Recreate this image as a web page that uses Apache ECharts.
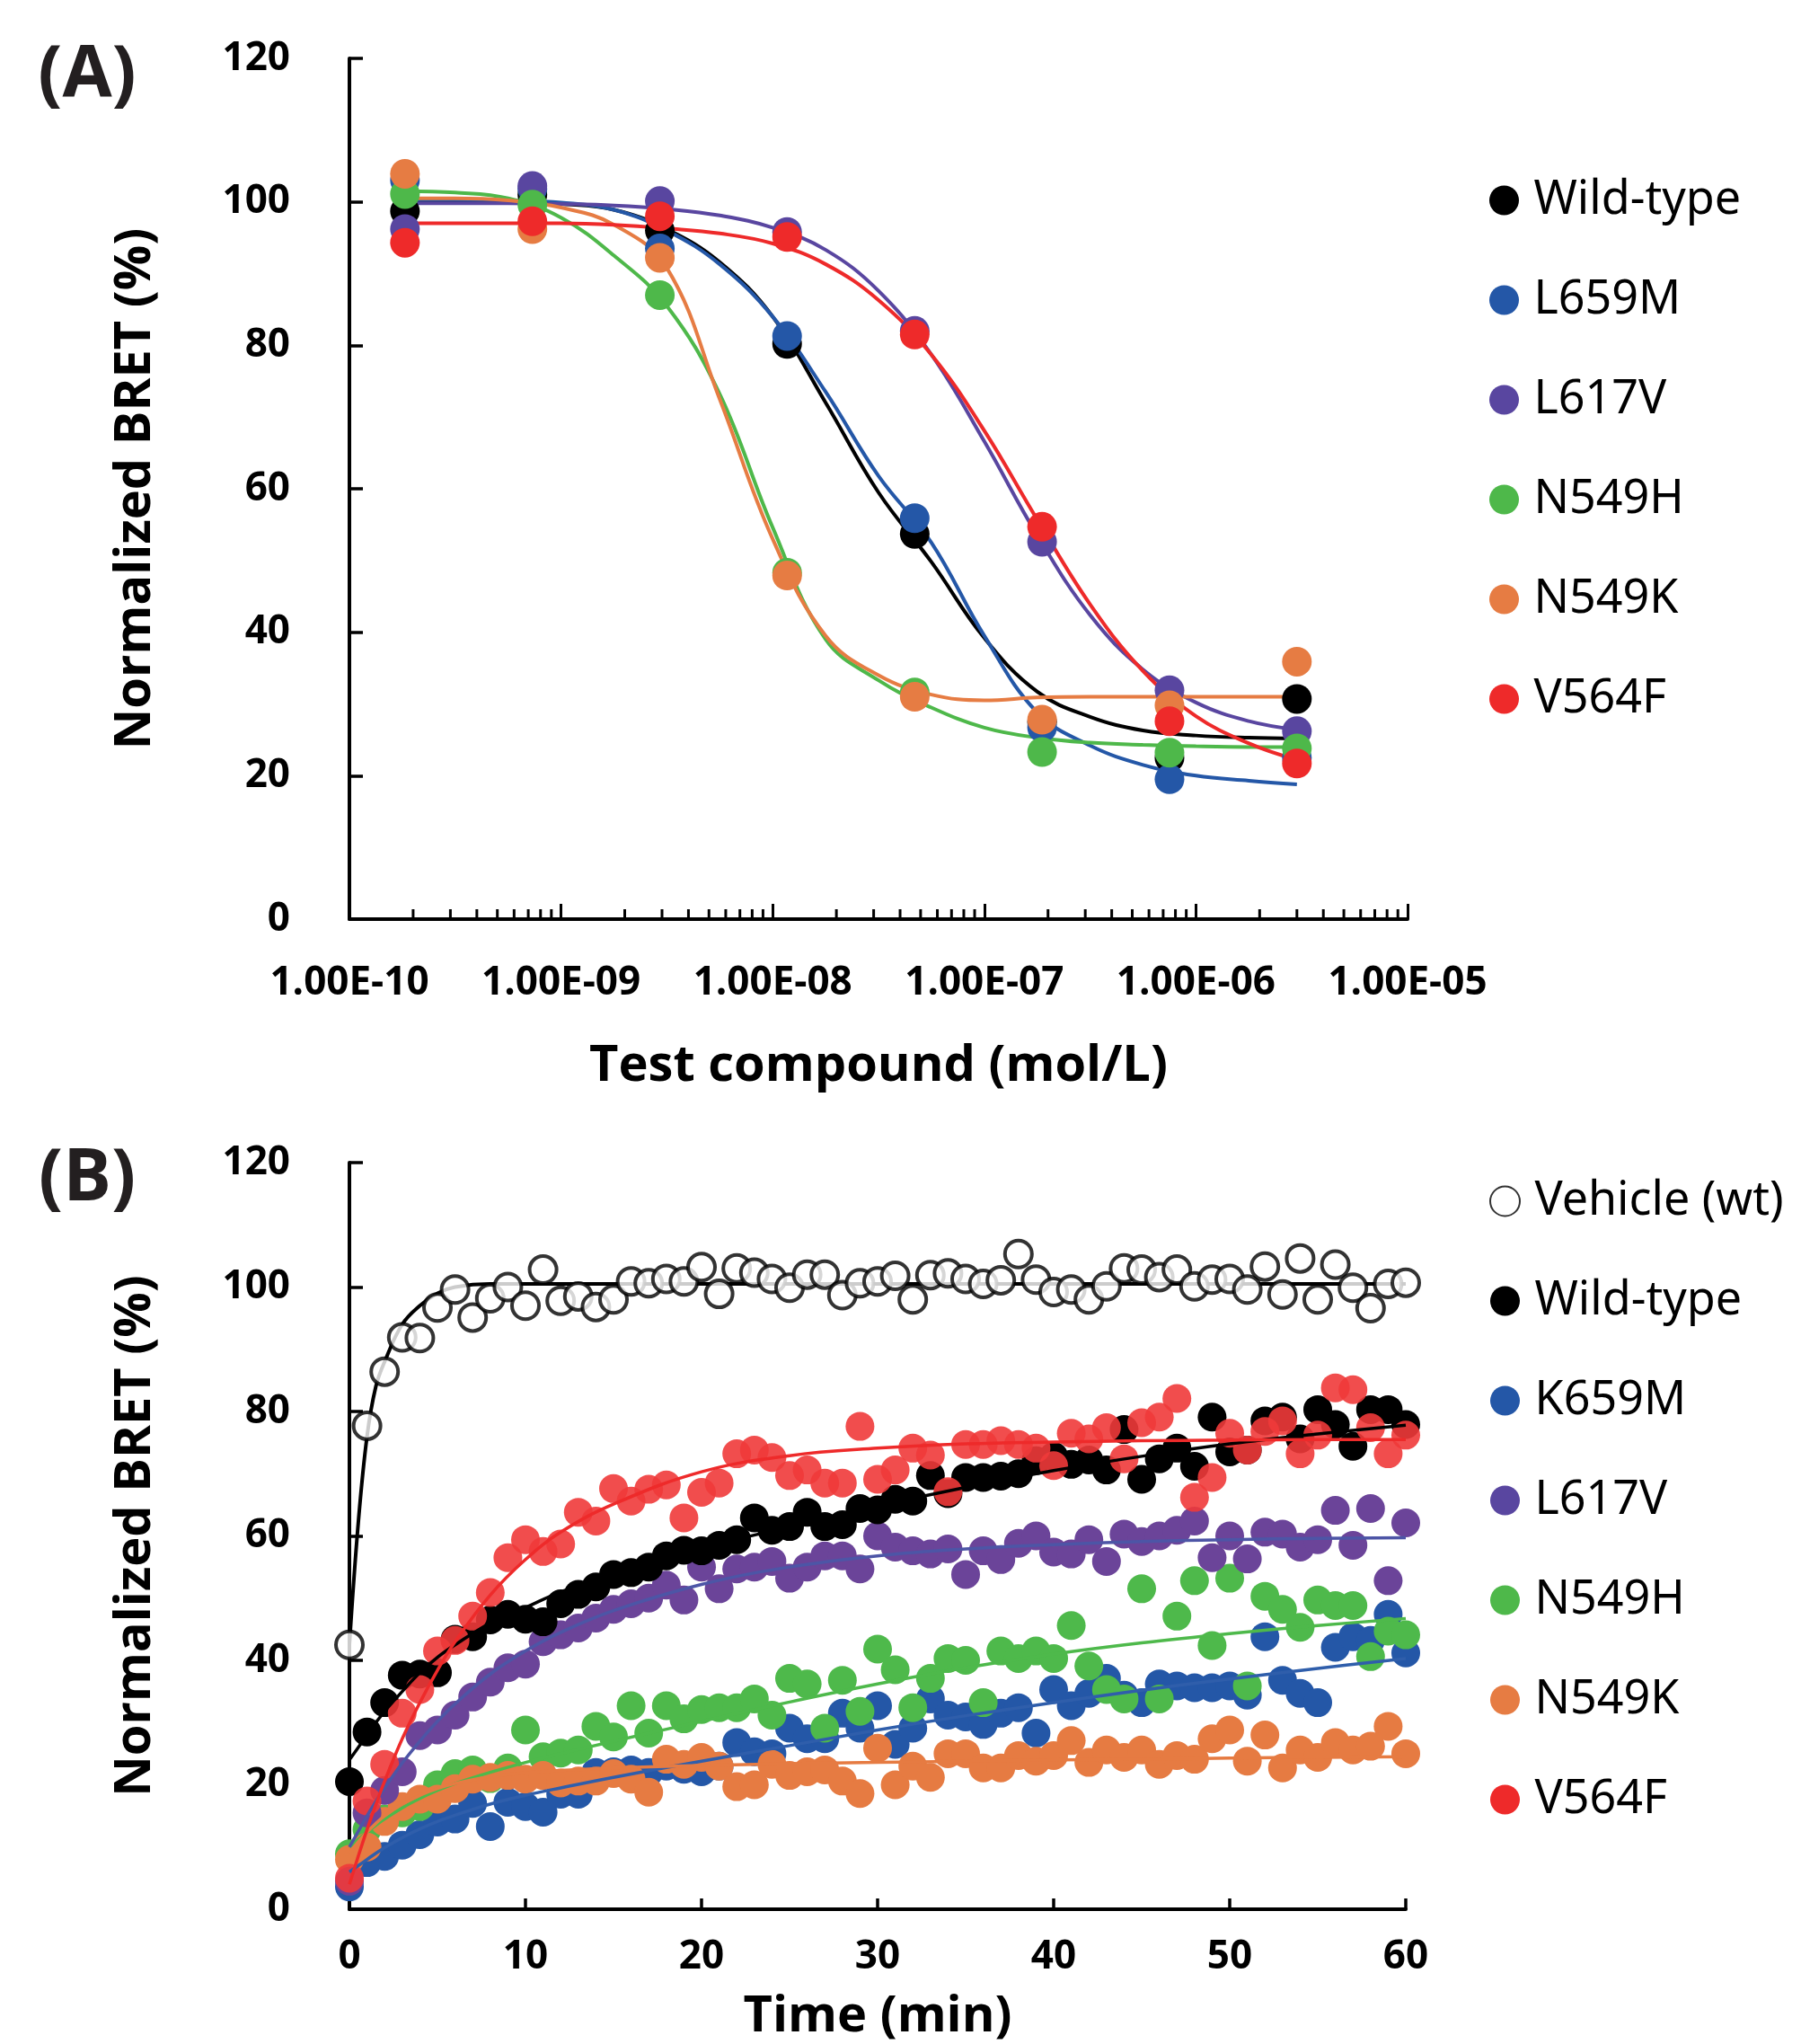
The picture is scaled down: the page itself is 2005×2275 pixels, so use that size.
<!DOCTYPE html>
<html>
<head>
<meta charset="utf-8">
<title>BRET</title>
<script src="https://cdn.jsdelivr.net/npm/echarts@6/dist/echarts.min.js"></script>
<style>
  html, body { margin: 0; padding: 0; background: #fff; }
  #main { width: 2005px; height: 2275px; }
</style>
</head>
<body>
<div id="main"></div>
<script>
// ---------- panel A : concentration response ----------
var concA = [1.83e-10, 7.32e-10, 2.93e-9, 1.17e-8, 4.69e-8, 1.875e-7, 7.5e-7, 3e-6];
var wtA     = [98.7, 101.0, 96.0, 80.2, 53.7, 27.5, 22.5, 30.7];
var l659mA  = [103.0, 101.8, 93.5, 81.3, 55.9, 26.7, 19.5, 22.5];
var l617vA  = [96.2, 102.2, 100.1, 95.8, 82.0, 52.6, 31.9, 26.2];
var n549hA  = [101.1, 99.6, 87.0, 48.3, 31.6, 23.3, 23.2, 23.8];
var n549kA  = [103.9, 96.2, 92.2, 47.9, 31.0, 27.8, 29.8, 35.9];
var v564fA  = [94.3, 97.3, 98.0, 95.1, 81.5, 54.7, 27.6, 21.7];

// fitted curves
var fitXA = [1.83e-10, 3.16e-10, 5.62e-10, 1e-9, 1.78e-9, 3.16e-9, 5.62e-9, 1e-8, 1.78e-8,
             3.16e-8, 5.62e-8, 1e-7, 1.78e-7, 3.16e-7, 5.62e-7, 1e-6, 1.78e-6, 3e-6];
var wtFitA    = [100, 100, 100, 99.7, 98.9, 96.2, 91.6, 84.0, 72.0, 59.5, 49.8, 39.2, 31.7, 28.2, 26.3, 25.6, 25.3, 25.2];
var l659mFitA = [100.3, 100.3, 100.2, 99.9, 98.9, 96.0, 91.3, 84.0, 73.5, 61.8, 52.5, 39.5, 28.8, 24.2, 21.5, 20.0, 19.3, 18.8];
var l617vFitA = [99.8, 99.8, 99.8, 99.7, 99.5, 99.0, 98.1, 96.4, 93.3, 87.6, 78.7, 66.6, 53.5, 42.4, 34.8, 30.2, 27.6, 26.4];
var n549hFitA = [101.5, 101.3, 100.5, 97.8, 92.5, 85.5, 73.2, 54.6, 39.0, 33.3, 29.5, 26.7, 25.3, 24.6, 24.3, 24.1, 24.0, 24.0];
var n549kFitA = [100.5, 100.5, 100.2, 99.2, 96.8, 90.8, 72.5, 53.0, 39.5, 34.0, 31.3, 30.5, 30.9, 31.0, 31.0, 31.0, 31.0, 31.0];
var v564fFitA = [97, 97, 97, 97, 96.8, 96.3, 95.6, 94.2, 91.3, 86.3, 78.7, 68.1, 55.7, 43.9, 34.6, 28.3, 24.5, 22.2];

var tickLabelsA = ['1.00E-10', '1.00E-09', '1.00E-08', '1.00E-07', '1.00E-06', '1.00E-05'];
var decadesA = [1e-10, 1e-9, 1e-8, 1e-7, 1e-6];
var minorMult = [2, 3, 4, 5, 6, 7, 8, 9];

// ---------- panel B : time course ----------
var timeB = [0, 1, 2, 3, 4, 5, 6, 7, 8, 9, 10, 11, 12, 13, 14, 15, 16, 17, 18, 19, 20,
             21, 22, 23, 24, 25, 26, 27, 28, 29, 30, 31, 32, 33, 34, 35, 36, 37, 38, 39, 40,
             41, 42, 43, 44, 45, 46, 47, 48, 49, 50, 51, 52, 53, 54, 55, 56, 57, 58, 59, 60];
var vehicleB = [42.5, 77.7, 86.4, 91.9, 91.8, 96.7, 99.6, 95.1, 98.2, 100.0, 97.0,
  102.8, 97.8, 98.5, 96.8, 98.0, 100.9, 100.6, 101.3, 100.9, 103.2,
  98.9, 103.0, 102.3, 101.3, 99.9, 102.0, 102.0, 98.7, 100.6, 100.9,
  101.8, 98.0, 101.9, 102.2, 101.3, 100.5, 101.1, 105.3, 101.2, 99.2,
  99.6, 98.0, 100.1, 103.0, 102.8, 101.6, 102.8, 100.1, 101.2, 101.3,
  99.6, 103.3, 98.8, 104.6, 98.0, 103.6, 99.9, 96.6, 100.5, 100.7];
var wtB = [20.5, 28.5, 33.2, 37.6, 37.8, 38.0, 43.4, 43.8, 46.5, 47.4, 46.6,
  46.2, 49.1, 50.6, 51.8, 53.8, 54.1, 55.0, 56.8, 57.7, 57.6,
  58.5, 59.4, 62.9, 60.9, 61.5, 63.8, 61.5, 61.8, 64.4, 64.2,
  65.9, 65.6, 69.7, 66.8, 69.4, 69.4, 69.6, 70.0, 72.1, 72.8,
  71.5, 72.2, 70.6, 77.1, 69.1, 72.4, 74.1, 71.2, 79.1, 73.5,
  73.8, 78.5, 79.1, 75.6, 80.3, 77.9, 74.4, 80.3, 80.3, 77.9];
var k659mB = [3.6, 7.5, 8.5, 10.3, 12.0, 14.0, 14.5, 17.0, 13.3, 17.2, 16.5,
  15.6, 18.5, 18.5, 22.0, 22.1, 22.4, 22.0, 23.0, 22.5, 22.1,
  23.0, 26.8, 25.3, 25.0, 29.1, 27.4, 27.4, 31.5, 29.1, 32.7,
  26.5, 29.1, 33.8, 31.2, 30.9, 29.7, 31.5, 32.4, 28.3, 35.3,
  32.7, 34.7, 37.1, 34.4, 33.2, 36.2, 35.9, 35.6, 35.6, 35.9,
  34.4, 43.8, 36.8, 34.7, 33.2, 42.1, 43.8, 43.2, 47.4, 41.2];
var l617vB = [4.5, 15.5, 19.1, 22.1, 27.9, 28.8, 31.2, 34.1, 36.5, 38.8, 39.4,
  43.0, 44.1, 45.2, 46.8, 48.2, 49.1, 50.0, 52.1, 49.7, 55.0,
  51.5, 54.7, 55.0, 55.9, 53.2, 55.0, 56.8, 56.8, 54.7, 60.0,
  58.2, 57.6, 57.1, 57.9, 53.8, 57.6, 56.2, 58.8, 60.0, 57.4,
  57.1, 59.4, 55.9, 60.3, 59.1, 60.0, 60.9, 62.4, 56.5, 60.0,
  56.3, 60.6, 60.3, 58.2, 59.4, 64.1, 58.5, 64.4, 52.8, 62.1];
var n549hB = [8.9, 12.8, 14.5, 15.5, 16.5, 20.0, 21.8, 22.4, 21.0, 22.7, 28.8,
  24.5, 25.1, 25.6, 29.4, 27.7, 32.7, 28.3, 32.7, 30.6, 32.1,
  32.4, 32.4, 33.8, 31.2, 37.1, 36.2, 29.1, 36.8, 31.8, 41.8,
  38.5, 32.4, 37.1, 40.3, 40.0, 33.2, 41.5, 40.3, 41.5, 40.3,
  45.6, 39.1, 35.3, 33.8, 51.5, 33.8, 47.1, 52.8, 42.4, 53.2,
  35.9, 50.3, 48.2, 45.3, 49.7, 48.8, 48.8, 40.6, 44.7, 44.1];
var n549kB = [8.0, 10.0, 14.1, 16.5, 17.7, 17.7, 19.4, 20.9, 21.2, 21.5, 20.9,
  21.5, 20.3, 20.6, 20.6, 21.8, 20.9, 18.8, 24.1, 23.3, 24.4,
  23.0, 19.7, 20.0, 23.3, 21.5, 22.1, 22.4, 20.6, 18.6, 25.9,
  20.0, 23.0, 21.2, 25.0, 25.0, 22.7, 22.7, 24.7, 23.8, 24.7,
  27.1, 23.6, 25.6, 24.4, 25.6, 23.3, 24.7, 24.1, 27.4, 28.8,
  23.8, 28.0, 22.7, 25.6, 24.4, 26.8, 25.6, 26.2, 29.4, 25.0];
var v564fB = [5.0, 17.4, 23.3, 31.5, 35.3, 41.5, 43.2, 47.1, 50.9, 56.5, 59.4,
  57.5, 58.7, 63.8, 62.4, 67.6, 65.6, 67.5, 68.2, 62.9, 67.0,
  68.5, 73.2, 73.8, 72.6, 69.7, 70.6, 68.5, 68.5, 77.6, 69.1,
  70.6, 74.1, 73.0, 67.1, 74.7, 74.7, 75.3, 74.7, 74.1, 71.3,
  76.5, 75.6, 77.4, 72.4, 78.2, 79.1, 82.1, 66.2, 69.4, 76.5,
  73.8, 76.8, 78.5, 73.2, 76.2, 83.8, 83.5, 77.4, 73.2, 76.2];

// fitted curves
var fitTB = [0, 0.5, 1, 1.5, 2, 3, 4, 5, 6, 8, 10, 12, 15, 20, 25, 30, 35, 40, 45, 50, 55, 60];
var vehicleFitB = [42.5, 62, 76, 84, 88, 94, 97, 99, 100, 100.5, 100.5, 100.5, 100.5, 100.5, 100.5, 100.5, 100.5, 100.5, 100.5, 100.5, 100.5, 100.5];
var wtFitB    = [24, 26, 28, 30, 31.8, 35, 38, 40.5, 42.5, 46, 48.5, 51, 54, 58, 61.5, 64.8, 67.8, 70.5, 72.8, 74.8, 76.4, 77.8];
var k659mFitB = [6, 7, 8, 9, 9.9, 11.5, 12.9, 14.1, 15.1, 16.9, 18.3, 19.5, 21.2, 23.8, 26.3, 28.8, 31.1, 33.2, 35.2, 37.0, 38.7, 40.3];
var l617vFitB = [10, 12.5, 15, 17.3, 19.5, 23.5, 27, 30.2, 33, 37.8, 41.5, 44.5, 48, 52.2, 55, 56.8, 57.9, 58.6, 59.1, 59.4, 59.6, 59.7];
var n549hFitB = [10, 11.2, 12.4, 13.5, 14.5, 16.3, 17.8, 19.1, 20.2, 22.0, 23.6, 25.0, 27.0, 30.2, 33.3, 36.2, 38.8, 41.0, 42.8, 44.3, 45.6, 46.7];
var n549kFitB = [9, 10.8, 12.4, 13.8, 15.0, 16.9, 18.3, 19.4, 20.2, 21.3, 21.9, 22.3, 22.7, 23.1, 23.4, 23.6, 23.8, 24.0, 24.1, 24.3, 24.4, 24.5];
var v564fFitB = [4, 8.5, 12.8, 16.8, 20.6, 27.4, 33.2, 38.4, 43.0, 50.5, 56.2, 60.6, 65.1, 70.3, 72.9, 74.1, 74.8, 75.1, 75.3, 75.4, 75.5, 75.5];

var boldFont = "'Open Sans', 'Liberation Sans', sans-serif";
var legendFont = "'Noto Sans', 'DejaVu Sans', sans-serif";

function pairs(xs, ys) {
  return xs.map(function (x, i) { return [x, ys[i]]; });
}

var chart = echarts.init(document.getElementById('main'));

// bottom -> top drawing order
var setA = [
  { name: 'Wild-type', color: '#000000', pts: wtA, fit: wtFitA },
  { name: 'L659M', color: '#2457a7', pts: l659mA, fit: l659mFitA },
  { name: 'L617V', color: '#5946a0', pts: l617vA, fit: l617vFitA },
  { name: 'N549H', color: '#4eb84a', pts: n549hA, fit: n549hFitA },
  { name: 'N549K', color: '#e67c43', pts: n549kA, fit: n549kFitA },
  { name: 'V564F', color: '#ee2a2a', pts: v564fA, fit: v564fFitA }
];
var setB = [
  { name: 'K659M', color: '#2457a7', line: '#2f5eab', pts: k659mB, fit: k659mFitB, op: 1 },
  { name: 'N549H', color: '#4eb94b', line: '#4eb94b', pts: n549hB, fit: n549hFitB, op: 1 },
  { name: 'N549K', color: '#e67b42', line: '#e67b42', pts: n549kB, fit: n549kFitB, op: 1 },
  { name: 'L617V', color: '#6b4499', line: '#4d55a6', pts: l617vB, fit: l617vFitB, op: 1 },
  { name: 'Wild-type', color: '#000000', line: '#000000', pts: wtB, fit: wtFitB, op: 1 },
  { name: 'V564F', color: '#f03a3a', line: '#ee2a2a', pts: v564fB, fit: v564fFitB, op: 0.9 }
];

var series = [];

// minor ticks of the log axis (2..9 in every decade)
var minorTicksA = [];
decadesA.forEach(function (d) {
  minorMult.forEach(function (m) { minorTicksA.push([m * d, 0]); });
});
series.push({
  type: 'custom', xAxisIndex: 0, yAxisIndex: 0, silent: true, clip: false, z: 1,
  data: minorTicksA,
  renderItem: function (params, api) {
    var p = api.coord([api.value(0), 0]);
    return {
      type: 'line',
      shape: { x1: p[0], y1: p[1], x2: p[0], y2: p[1] - 11 },
      style: { stroke: '#000', lineWidth: 3 }
    };
  }
});

setA.forEach(function (s) {
  series.push({
    name: s.name + ' fit A', type: 'line', xAxisIndex: 0, yAxisIndex: 0,
    data: pairs(fitXA, s.fit), showSymbol: false, symbol: 'none', smooth: 0.4,
    clip: false, silent: true, z: 2,
    lineStyle: { color: s.color, width: 4 }
  });
});
setA.forEach(function (s) {
  series.push({
    name: s.name, type: 'scatter', xAxisIndex: 0, yAxisIndex: 0,
    data: pairs(concA, s.pts), symbol: 'circle', symbolSize: 33, clip: false, z: 3,
    itemStyle: { color: s.color, opacity: 1 }
  });
});

// panel B
series.push({
  name: 'Vehicle fit', type: 'line', xAxisIndex: 1, yAxisIndex: 1,
  data: pairs(fitTB, vehicleFitB), showSymbol: false, symbol: 'none', smooth: 0.4,
  clip: false, silent: true, z: 2,
  lineStyle: { color: '#000', width: 4 }
});
series.push({
  name: 'Vehicle (wt)', type: 'scatter', xAxisIndex: 1, yAxisIndex: 1,
  data: pairs(timeB, vehicleB), symbol: 'circle', symbolSize: 30, clip: false, z: 3,
  itemStyle: { color: '#ffffff', borderColor: '#000000', borderWidth: 4 }
});
setB.forEach(function (s) {
  series.push({
    name: s.name, type: 'scatter', xAxisIndex: 1, yAxisIndex: 1,
    data: pairs(timeB, s.pts), symbol: 'circle', symbolSize: 32, clip: false, z: 3,
    itemStyle: { color: s.color, opacity: s.op }
  });
});
setB.forEach(function (s) {
  series.push({
    name: s.name + ' fit B', type: 'line', xAxisIndex: 1, yAxisIndex: 1,
    data: pairs(fitTB, s.fit), showSymbol: false, symbol: 'none', smooth: 0.4,
    clip: false, silent: true, z: 4,
    lineStyle: { color: s.line, width: 3.5 }
  });
});

function yAxisFor(gi) {
  return {
    type: 'value', gridIndex: gi, min: 0, max: 120, interval: 20,
    name: 'Normalized BRET (%)', nameLocation: 'middle', nameGap: 210, nameRotate: 90,
    nameTextStyle: { fontSize: 56, fontWeight: 'bold', color: '#000', fontFamily: boldFont },
    axisLine: { show: true, onZero: false, lineStyle: { color: '#000', width: 4 } },
    axisTick: { show: true, inside: true, length: 15, lineStyle: { color: '#000', width: 3.5 } },
    axisLabel: { margin: 66, fontSize: 44, fontWeight: 'bold', color: '#000', fontFamily: boldFont },
    splitLine: { show: false }
  };
}

function legendFor(top, names) {
  return {
    orient: 'vertical', left: 1653, top: top,
    itemWidth: 56, itemHeight: 33, itemGap: 51,
    icon: 'circle', selectedMode: false,
    textStyle: { fontSize: 52, lineHeight: 60, color: '#000', fontFamily: legendFont },
    data: names
  };
}

var option = {
  animation: false,
  backgroundColor: '#ffffff',
  grid: [
    { left: 389, top: 65, width: 1178, height: 958 },
    { left: 389, top: 1294, width: 1176, height: 831 }
  ],
  xAxis: [
    {
      type: 'log', logBase: 10, gridIndex: 0, min: 1e-10, max: 1e-5, splitNumber: 5,
      name: 'Test compound (mol/L)', nameLocation: 'middle', nameGap: 136,
      nameTextStyle: { fontSize: 56, fontWeight: 'bold', color: '#000', fontFamily: boldFont },
      axisLine: { show: true, onZero: false, lineStyle: { color: '#000', width: 4 } },
      axisTick: { show: true, inside: true, length: 17, lineStyle: { color: '#000', width: 3 } },
      axisLabel: {
        margin: 49, fontSize: 44, fontWeight: 'bold', color: '#000', fontFamily: boldFont,
        showMinLabel: true, showMaxLabel: true,
        formatter: function (v) {
          var i = Math.round(Math.log10(v)) + 10;
          return tickLabelsA[i] || '';
        }
      },
      splitLine: { show: false }
    },
    {
      type: 'value', gridIndex: 1, min: 0, max: 60, interval: 10,
      name: 'Time (min)', nameLocation: 'middle', nameGap: 92,
      nameTextStyle: { fontSize: 56, fontWeight: 'bold', color: '#000', fontFamily: boldFont },
      axisLine: { show: true, onZero: false, lineStyle: { color: '#000', width: 4 } },
      axisTick: { show: true, inside: true, length: 12, lineStyle: { color: '#000', width: 3.5 } },
      axisLabel: { margin: 31, fontSize: 44, fontWeight: 'bold', color: '#000', fontFamily: boldFont },
      splitLine: { show: false }
    }
  ],
  yAxis: [yAxisFor(0), yAxisFor(1)],
  legend: [
    legendFor(188, ['Wild-type', 'L659M', 'L617V', 'N549H', 'N549K', 'V564F']),
    legendFor(1302, ['Vehicle (wt)', 'Wild-type', 'K659M', 'L617V', 'N549H', 'N549K', 'V564F'])
  ],
  graphic: [
    {
      type: 'text', x: 97, y: 85,
      style: {
        text: '(A)', fill: '#231f20', align: 'center', verticalAlign: 'middle',
        font: "bold 80px 'Liberation Sans Narrow', 'Open Sans', sans-serif"
      }
    },
    {
      type: 'text', x: 97, y: 1313,
      style: {
        text: '(B)', fill: '#231f20', align: 'center', verticalAlign: 'middle',
        font: "bold 80px 'Liberation Sans Narrow', 'Open Sans', sans-serif"
      }
    }
  ],
  series: series
};

chart.setOption(option);
</script>
</body>
</html>
